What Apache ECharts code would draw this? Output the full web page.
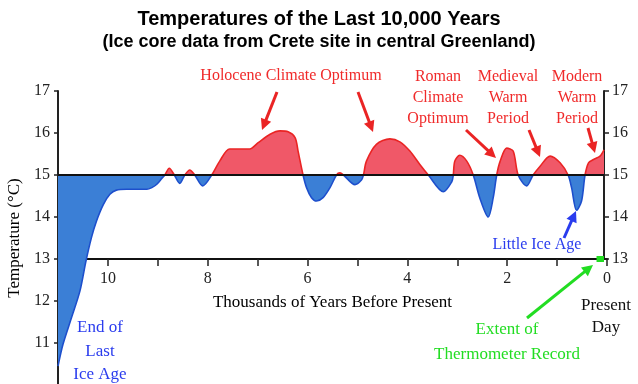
<!DOCTYPE html>
<html><head><meta charset="utf-8">
<script src="https://cdn.jsdelivr.net/npm/echarts@6/dist/echarts.min.js"></script>
<style>html,body{margin:0;padding:0;background:#fff}#c{width:638px;height:384px}</style>
</head><body><div id="c"></div>
<script>
// ---- data (thousands of years before present, temperature in °C) ----
const years = [11.0, 10.9, 10.73, 10.56, 10.44, 10.33, 10.23, 10.09, 9.96, 9.83, 9.63, 9.22, 9.12, 9.02, 8.92, 8.86, 8.77, 8.67, 8.56, 8.46, 8.36, 8.26, 8.10, 7.92, 7.76, 7.56, 7.16, 6.99, 6.75, 6.55, 6.39, 6.25, 6.19, 6.09, 6.02, 5.92, 5.82, 5.69, 5.55, 5.42, 5.35, 5.28, 5.05, 4.92, 4.88, 4.82, 4.62, 4.35, 4.15, 3.95, 3.75, 3.58, 3.28, 3.11, 3.08, 3.05, 2.95, 2.81, 2.68, 2.55, 2.38, 2.28, 2.21, 2.14, 2.01, 1.88, 1.78, 1.61, 1.48, 1.34, 1.14, 0.94, 0.78, 0.71, 0.61, 0.51, 0.44, 0.37, 0.27, 0.14, 0.06];
const temps = [10.45, 10.97, 11.60, 12.24, 12.95, 13.51, 13.90, 14.30, 14.54, 14.64, 14.66, 14.66, 14.70, 14.78, 14.92, 15.0, 15.16, 15.0, 14.80, 15.0, 15.12, 15.0, 14.74, 15.0, 15.33, 15.62, 15.62, 15.77, 15.97, 16.05, 16.03, 15.89, 15.57, 15.0, 14.70, 14.46, 14.38, 14.46, 14.70, 15.0, 15.05, 15.0, 14.77, 14.88, 15.0, 15.33, 15.73, 15.86, 15.79, 15.57, 15.25, 15.0, 14.60, 14.84, 15.0, 15.33, 15.47, 15.33, 15.0, 14.46, 14.0, 14.46, 15.0, 15.33, 15.64, 15.57, 15.0, 14.74, 15.0, 15.21, 15.45, 15.29, 15.0, 14.70, 14.16, 14.38, 15.0, 15.29, 15.37, 15.45, 15.6];
const baseline = 15;
const yTicksLeft = [11, 12, 13, 14, 15, 16, 17];
const yTicksRight = [13, 14, 15, 16, 17];
const xTickLabels = [10, 8, 6, 4, 2, 0];
const thermometerExtent = [0.21, 0.06];
const thermometerLevel = 13;

const serif = '"Liberation Serif", "DejaVu Serif", serif';
const sans = '"Liberation Sans", Arial, sans-serif';
const RED_FILL = '#f05868', RED_LINE = '#ea2424';
const BLUE_FILL = '#3b7fd6', BLUE_LINE = '#1d4fcc';
const RED_TXT = '#f02a2a', BLUE_TXT = '#2a3cee', GREEN = '#22dd22';

const data = years.map((y, i) => [y, temps[i]]);
const baselineData = [[years[0], baseline], [years[years.length - 1], baseline]];

function txt(text, x, y, color, size) {
  return { type: 'text', silent: true, z: 100,
    style: { text: text, x: x, y: y, fill: color, font: size + 'px ' + serif, align: 'center', verticalAlign: 'middle' } };
}
function arrow(x1, y1, x2, y2, color, w) {
  const dx = x2 - x1, dy = y2 - y1, L = Math.sqrt(dx * dx + dy * dy);
  const ux = dx / L, uy = dy / L, hl = 11, hw = 5.5;
  const bx = x2 - ux * hl, by = y2 - uy * hl;
  return [
    { type: 'line', silent: true, z: 100, shape: { x1: x1, y1: y1, x2: bx + ux * 2, y2: by + uy * 2 }, style: { stroke: color, lineWidth: w } },
    { type: 'polygon', silent: true, z: 100, shape: { points: [[x2, y2], [bx - uy * hw, by + ux * hw], [bx + uy * hw, by - ux * hw]] }, style: { fill: color } }
  ];
}

const graphics = [
  txt('Holocene Climate Optimum', 291, 76, RED_TXT, 16),
  txt('Roman', 438, 77, RED_TXT, 16), txt('Climate', 438, 98, RED_TXT, 16), txt('Optimum', 438, 119, RED_TXT, 16),
  txt('Medieval', 508, 77, RED_TXT, 16), txt('Warm', 508, 98, RED_TXT, 16), txt('Period', 508, 119, RED_TXT, 16),
  txt('Modern', 577, 77, RED_TXT, 16), txt('Warm', 577, 98, RED_TXT, 16), txt('Period', 577, 119, RED_TXT, 16),
  txt('Little Ice Age', 537, 245, BLUE_TXT, 16),
  txt('End of', 100, 328, BLUE_TXT, 17), txt('Last', 100, 352, BLUE_TXT, 17), txt('Ice Age', 100, 375, BLUE_TXT, 17),
  txt('Extent of', 507, 330, GREEN, 17), txt('Thermometer Record', 507, 355, GREEN, 17),
  txt('Present', 606, 306, '#111', 17), txt('Day', 606, 328, '#111', 17)
].concat(
  arrow(277, 92, 262, 130, RED_LINE, 3),
  arrow(358, 92, 373, 132, RED_LINE, 3),
  arrow(466, 130, 496, 158, RED_LINE, 3),
  arrow(529, 130, 540, 157, RED_LINE, 3),
  arrow(588, 128, 595, 153, RED_LINE, 3),
  arrow(564, 238, 576, 211, BLUE_TXT, 3),
  arrow(527, 318, 593, 265, GREEN, 3)
);

const axisText = { fontFamily: serif, fontSize: 16, color: '#222' };
const chart = echarts.init(document.getElementById('c'), null, { renderer: 'canvas' });
chart.setOption({
  animation: false,
  backgroundColor: '#fff',
  title: [
    { text: 'Temperatures of the Last 10,000 Years', left: 'center', top: 4,
      textStyle: { fontFamily: sans, fontSize: 20, fontWeight: 'bold', color: '#000' } },
    { text: '(Ice core data from Crete site in central Greenland)', left: 'center', top: 28,
      textStyle: { fontFamily: sans, fontSize: 18, fontWeight: 'bold', color: '#000' } }
  ],
  grid: [
    { left: 58, top: 91, width: 549, height: 294, outerBoundsMode: 'none' },
    { left: 58, top: 91, width: 549, height: 168, outerBoundsMode: 'none' }
  ],
  xAxis: [
    { gridIndex: 0, type: 'value', min: 0, max: 11, inverse: true, show: false,
      axisLine: { onZero: false } },
    { gridIndex: 1, type: 'value', min: 0, max: 11, interval: 1, inverse: true, position: 'bottom',
      axisLine: { show: true, onZero: false, lineStyle: { color: '#111', width: 2 } },
      axisTick: { show: true, inside: false, length: 7, lineStyle: { color: '#222', width: 1.5 } },
      axisLabel: Object.assign({ margin: 12, showMinLabel: true, showMaxLabel: true, hideOverlap: false,
        formatter: v => xTickLabels.includes(v) ? String(v) : '' }, axisText),
      splitLine: { show: false },
      name: 'Thousands of Years Before Present', nameLocation: 'middle', nameGap: 35,
      nameTextStyle: { fontFamily: serif, fontSize: 17, color: '#000' } }
  ],
  yAxis: [
    { gridIndex: 0, type: 'value', min: 10, max: 17, interval: 1, position: 'left',
      axisLine: { show: true, onZero: false, lineStyle: { color: '#222', width: 2 } },
      axisTick: { show: true, inside: false, length: 4, lineStyle: { color: '#222', width: 1.5 } },
      axisLabel: Object.assign({ margin: 8, showMinLabel: true, showMaxLabel: true, hideOverlap: false,
        formatter: v => yTicksLeft.includes(v) ? String(v) : '' }, axisText),
      splitLine: { show: false },
      name: 'Temperature (°C)', nameLocation: 'middle', nameGap: 33,
      nameTextStyle: { fontFamily: serif, fontSize: 17, color: '#000' } },
    { gridIndex: 1, type: 'value', min: 13, max: 17, interval: 1, position: 'right', offset: -3,
      axisLine: { show: true, onZero: false, lineStyle: { color: '#222', width: 2 } },
      axisTick: { show: true, inside: false, length: 5, lineStyle: { color: '#222', width: 1.5 } },
      axisLabel: Object.assign({ margin: 8, showMinLabel: true, showMaxLabel: true, hideOverlap: false,
        formatter: v => yTicksRight.includes(v) ? String(v) : '' }, axisText),
      splitLine: { show: false } }
  ],
  series: [
    { id: 'fill', type: 'line', xAxisIndex: 0, yAxisIndex: 0, data: data, smooth: 0.3, showSymbol: false, silent: true,
      lineStyle: { width: 0, opacity: 0 }, areaStyle: { origin: baseline, opacity: 1, color: RED_FILL }, z: 2 },
    { id: 'curve', type: 'line', xAxisIndex: 0, yAxisIndex: 0, data: data, smooth: 0.3, showSymbol: false, silent: true,
      lineStyle: { width: 1.6, color: RED_LINE }, z: 3 },
    { id: 'base', type: 'line', xAxisIndex: 0, yAxisIndex: 0, data: baselineData, showSymbol: false, silent: true,
      lineStyle: { color: '#111', width: 2 }, z: 4 },
    { id: 'thermo', type: 'line', xAxisIndex: 1, yAxisIndex: 1, data: thermometerExtent.map(y => [y, thermometerLevel]),
      showSymbol: false, silent: true, lineStyle: { color: GREEN, width: 6 }, z: 5 }
  ],
  graphic: graphics
});

// split colours at the baseline, located through the library's own y scale
const H = chart.getHeight();
const yBase = chart.convertToPixel({ yAxisIndex: 0 }, baseline);
const f = yBase / H;
function split(top, bottom) {
  return new echarts.graphic.LinearGradient(0, 0, 0, H, [
    { offset: 0, color: top }, { offset: f, color: top },
    { offset: f, color: bottom }, { offset: 1, color: bottom }
  ], true);
}
chart.setOption({
  series: [
    { id: 'fill', areaStyle: { color: split(RED_FILL, BLUE_FILL) } },
    { id: 'curve', lineStyle: { color: split(RED_LINE, BLUE_LINE) } }
  ]
});
</script>
</body></html>
